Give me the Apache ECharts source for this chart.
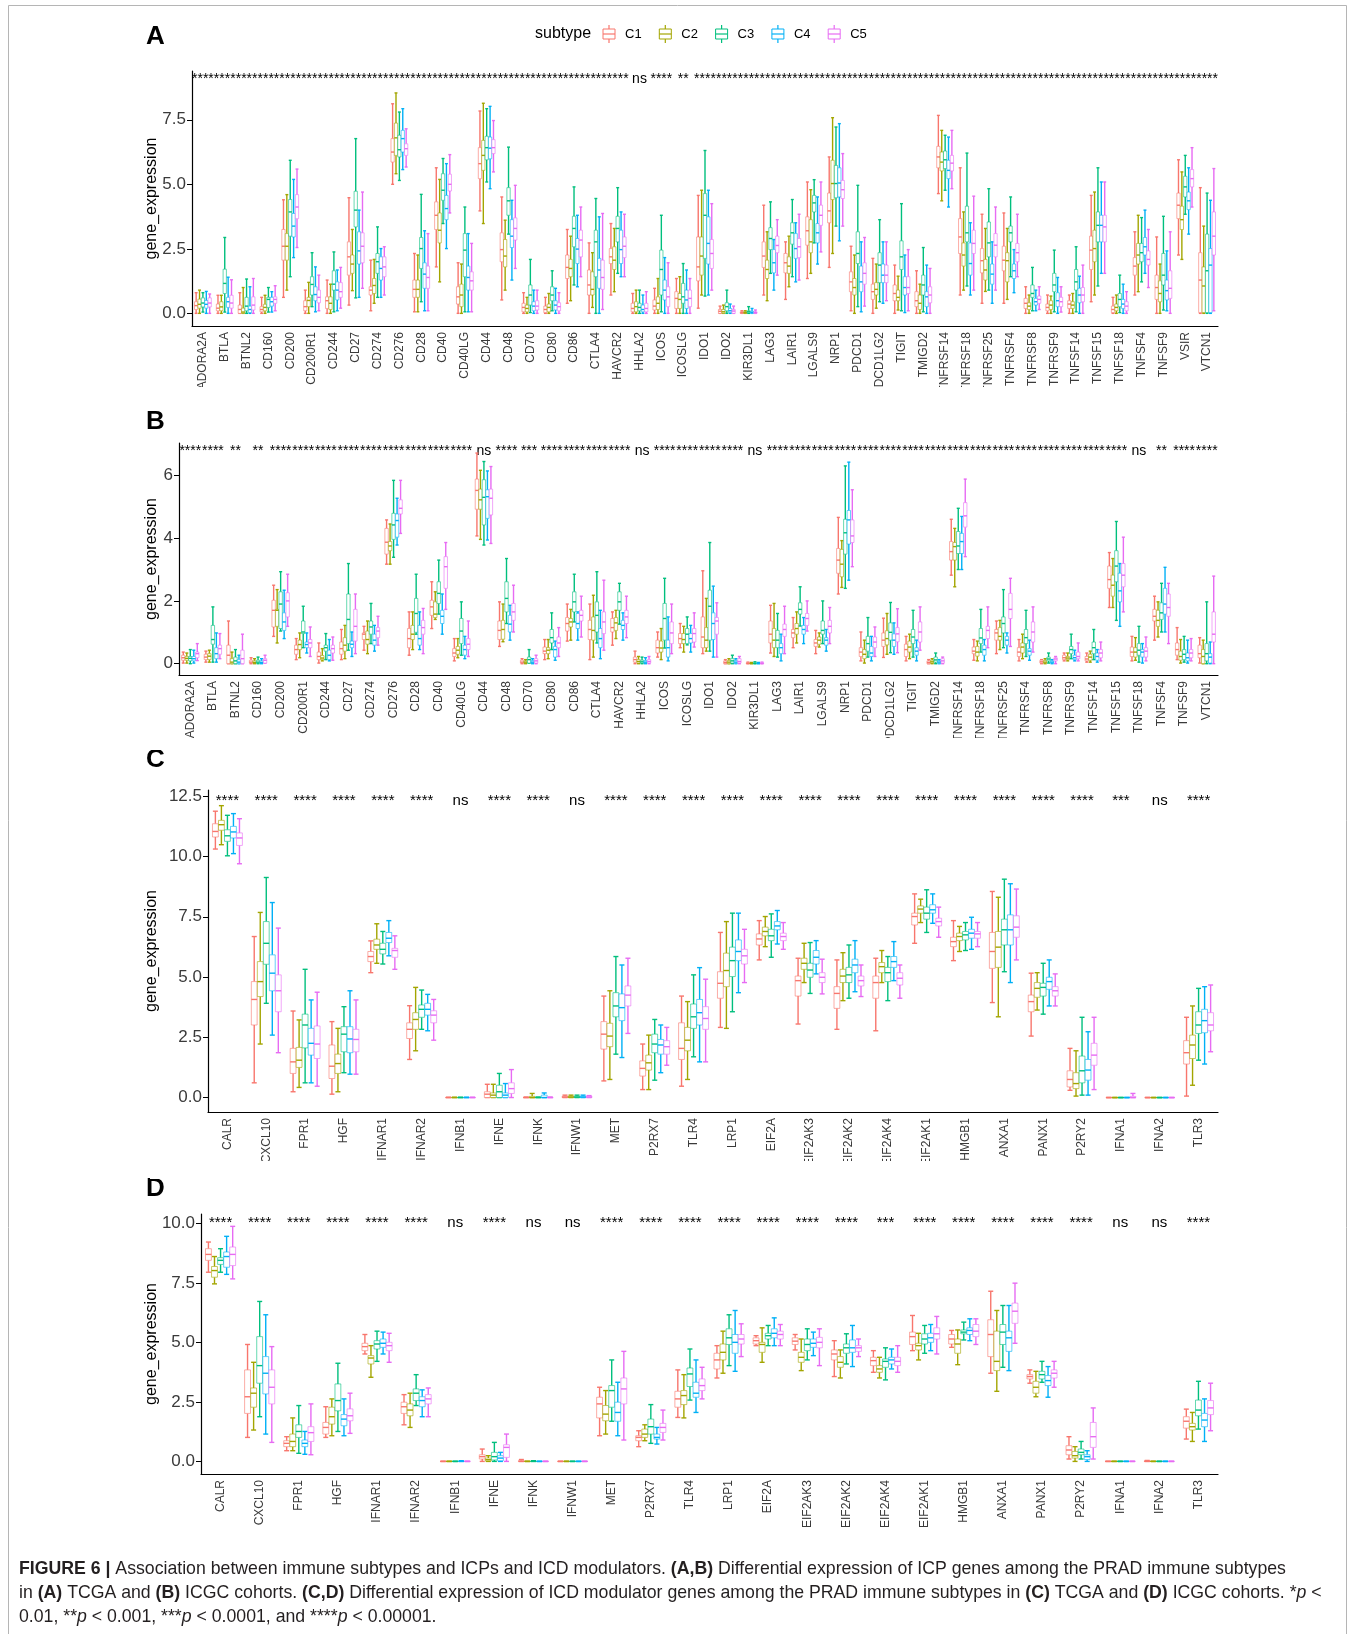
<!DOCTYPE html>
<html>
<head>
<meta charset="utf-8">
<script src="https://cdn.jsdelivr.net/npm/echarts@6.0.0/dist/echarts.min.js"></script>
<style>
html, body { margin: 0; padding: 0; background: #fff; }
#main { width: 1354px; height: 1634px; }
</style>
</head>
<body>
<div id="main"></div>
<script>
// subtypes and their ggplot hue colours
const subtypes = ['C1', 'C2', 'C3', 'C4', 'C5'];
const subtypeColors = ['#F8766D', '#A3A500', '#00BF7D', '#00B0F6', '#E76BF3'];

// gene lists
const icpGenesTcga = ['ADORA2A','BTLA','BTNL2','CD160','CD200','CD200R1','CD244','CD27','CD274','CD276','CD28','CD40','CD40LG','CD44','CD48','CD70','CD80','CD86','CTLA4','HAVCR2','HHLA2','ICOS','ICOSLG','IDO1','IDO2','KIR3DL1','LAG3','LAIR1','LGALS9','NRP1','PDCD1','PDCD1LG2','TIGIT','TMIGD2','TNFRSF14','TNFRSF18','TNFRSF25','TNFRSF4','TNFRSF8','TNFRSF9','TNFSF14','TNFSF15','TNFSF18','TNFSF4','TNFSF9','VSIR','VTCN1'];
const icpGenesIcgc = ['ADORA2A','BTLA','BTNL2','CD160','CD200','CD200R1','CD244','CD27','CD274','CD276','CD28','CD40','CD40LG','CD44','CD48','CD70','CD80','CD86','CTLA4','HAVCR2','HHLA2','ICOS','ICOSLG','IDO1','IDO2','KIR3DL1','LAG3','LAIR1','LGALS9','NRP1','PDCD1','PDCD1LG2','TIGIT','TMIGD2','TNFRSF14','TNFRSF18','TNFRSF25','TNFRSF4','TNFRSF8','TNFRSF9','TNFSF14','TNFSF15','TNFSF18','TNFSF4','TNFSF9','VTCN1'];
const icdGenes = ['CALR','CXCL10','FPR1','HGF','IFNAR1','IFNAR2','IFNB1','IFNE','IFNK','IFNW1','MET','P2RX7','TLR4','LRP1','EIF2A','EIF2AK3','EIF2AK2','EIF2AK4','EIF2AK1','HMGB1','ANXA1','PANX1','P2RY2','IFNA1','IFNA2','TLR3'];

// significance labels, one per gene
const tcgaIcpSig = ['****','****','****','****','****','****','****','****','****','****','****','****','****','****','****','****','****','****','****','****','ns','****','**','****','****','****','****','****','****','****','****','****','****','****','****','****','****','****','****','****','****','****','****','****','****','****','****'];
const icgcIcpSig = ['****','****','**','**','****','****','****','****','****','****','****','****','****','ns','****','***','****','****','****','****','ns','****','****','****','****','ns','****','****','****','****','****','****','****','****','****','****','****','****','****','****','****','****','ns','**','****','****'];
const tcgaIcdSig = ['****','****','****','****','****','****','ns','****','****','ns','****','****','****','****','****','****','****','****','****','****','****','****','****','***','ns','****'];
const icgcIcdSig = ['****','****','****','****','****','****','ns','****','ns','ns','****','****','****','****','****','****','****','***','****','****','****','****','****','ns','ns','****'];

// box stats per gene: for C1..C5 -> [min, q1, median, q3, max]
const tcgaIcpStats = [
  [[0,0.15,0.3,0.45,0.8],[0,0.2,0.35,0.55,0.9],[0.05,0.25,0.4,0.6,0.8],[0,0.2,0.35,0.5,0.85],[0,0.25,0.4,0.6,0.75]], // ADORA2A
  [[0,0.1,0.2,0.36,0.7],[0,0.1,0.25,0.45,0.7],[0.05,0.77,1.16,1.71,2.94],[0,0.23,0.45,0.62,1.4],[0,0.2,0.4,0.7,1.3]], // BTLA
  [[0,0,0.15,0.32,0.8],[0,0,0.05,0.2,1.0],[0,0.1,0.28,0.62,1.33],[0,0.03,0.15,0.28,1.03],[0,0.13,0.32,0.64,1.35]], // BTNL2
  [[0,0.06,0.15,0.26,0.62],[0,0.1,0.23,0.35,0.7],[0.05,0.23,0.54,0.62,1.0],[0.05,0.28,0.45,0.62,0.84],[0.1,0.39,0.54,0.64,1.07]], // CD160
  [[0.62,2.06,2.6,3.25,4.4],[0.9,2.06,2.6,3.09,4.6],[1.42,2.99,3.93,4.41,5.93],[2.16,2.96,3.38,3.87,5.19],[2.55,3.67,4.12,4.6,5.59]], // CD200
  [[0,0.1,0.26,0.49,0.9],[0,0.26,0.5,0.62,1.2],[0.26,0.71,1.12,1.42,2.35],[0.06,0.49,0.73,1.03,1.8],[0.1,0.41,0.62,0.9,1.48]], // CD200R1
  [[0,0.19,0.49,0.64,1.29],[0,0.15,0.39,0.64,1.13],[0.06,0.9,1.13,1.65,2.38],[0.1,0.52,0.9,1.22,1.68],[0.2,0.62,0.84,1.19,1.78]], // CD244
  [[0.32,1.48,2.19,2.77,4.48],[0.88,1.55,1.91,2.26,3.25],[0.6,3.35,4.0,4.73,6.77],[0.62,1.91,2.42,3.16,4.0],[0.97,1.96,2.6,3.12,4.7]], // CD27
  [[0.1,0.71,0.9,1.03,2.06],[0.39,0.77,1.08,1.35,2.09],[0.62,1.55,2.0,2.32,3.35],[0.62,1.29,1.74,2.19,2.51],[0.71,1.42,1.8,2.19,2.58]], // CD274
  [[5.0,5.86,6.25,6.77,8.12],[5.41,6.12,6.8,7.37,8.54],[5.15,6.06,6.34,6.9,7.8],[5.57,6.25,6.77,7.09,7.93],[5.67,6.12,6.38,6.57,7.15]], // CD276
  [[0.06,0.62,0.93,1.29,2.32],[0.06,0.62,0.93,1.29,2.26],[0.45,1.74,2.51,2.94,4.61],[0.1,0.97,1.52,1.96,3.2],[0.1,0.97,1.39,1.83,3.09]], // CD28
  [[1.8,3.25,3.8,4.32,5.64],[1.22,2.73,3.22,3.89,5.19],[3.48,4.38,4.77,5.41,6.0],[2.51,3.63,4.06,4.57,5.8],[3.89,4.74,5.0,5.39,6.15]], // CD40
  [[0,0.36,0.64,1.03,1.96],[0,0.26,0.71,1.13,1.91],[0.06,1.42,2.45,3.09,4.12],[0.06,0.9,1.39,1.83,3.09],[0.06,0.9,1.26,1.61,2.71]], // CD40LG
  [[3.97,5.22,5.8,6.42,7.84],[3.48,5.54,6.12,6.7,8.14],[5.09,5.95,6.42,6.86,7.93],[4.83,5.99,6.4,6.83,8.02],[5.48,6.19,6.42,6.73,7.47]], // CD44
  [[0.52,2.0,2.47,3.12,4.51],[0.9,1.8,2.22,2.86,3.61],[3.07,3.8,4.36,4.87,6.44],[1.29,2.55,2.99,3.63,4.38],[1.74,2.84,3.29,3.7,4.96]], // CD48
  [[0,0.06,0.23,0.39,0.8],[0,0.06,0.19,0.32,0.62],[0.03,0.32,0.71,1.1,2.09],[0,0.1,0.28,0.45,0.9],[0,0.13,0.28,0.49,0.9]], // CD70
  [[0,0.03,0.15,0.28,0.62],[0,0.06,0.23,0.36,0.77],[0.1,0.49,0.71,1.03,1.65],[0,0.13,0.32,0.49,0.97],[0,0.1,0.26,0.41,0.8]], // CD80
  [[0.39,1.35,1.78,2.26,3.25],[0.49,1.42,1.74,2.09,2.99],[1.1,2.58,3.29,3.76,4.9],[1.03,1.93,2.49,2.9,3.8],[1.42,2.19,2.84,3.22,4.12]], // CD86
  [[0,0.71,1.1,1.68,2.73],[0.23,0.71,0.93,1.61,2.35],[0,1.42,2.77,3.22,4.45],[0,0.97,1.68,2.13,3.74],[0.15,0.93,1.39,2.06,3.87]], // CTLA4
  [[0.71,1.93,2.19,2.51,3.48],[0.84,1.7,2.06,2.58,3.29],[1.55,2.77,3.29,3.76,4.87],[1.42,1.93,2.47,3.22,3.93],[1.42,2.16,2.6,2.96,3.84]], // HAVCR2
  [[0,0.06,0.19,0.39,0.77],[0,0.06,0.26,0.45,0.9],[0,0.1,0.23,0.39,0.9],[0,0.06,0.15,0.32,0.71],[0,0.06,0.19,0.39,0.84]], // HHLA2
  [[0,0.13,0.28,0.52,0.97],[0,0.15,0.39,0.64,1.35],[0.06,0.71,1.7,2.45,3.8],[0,0.52,0.9,1.29,2.16],[0,0.26,0.64,1.03,1.96]], // ICOS
  [[0,0.19,0.58,0.84,1.35],[0,0.19,0.54,0.77,1.42],[0,0.39,0.64,1.16,1.93],[0,0.19,0.52,0.9,1.68],[0,0.26,0.58,0.9,1.35]], // ICOSLG
  [[0.2,1.26,1.8,2.96,4.57],[0.71,1.48,2.22,2.96,4.77],[0.67,2.13,3.8,4.64,6.31],[0.71,1.91,2.71,3.74,4.77],[0.9,1.74,2.32,2.86,4.25]], // IDO1
  [[0,0,0.08,0.15,0.28],[0,0,0.06,0.15,0.32],[0,0.1,0.26,0.41,0.9],[0,0.03,0.1,0.19,0.36],[0,0,0.09,0.15,0.28]], // IDO2
  [[0,0,0.03,0.06,0.1],[0,0,0.03,0.06,0.1],[0,0.02,0.06,0.1,0.26],[0,0,0.04,0.08,0.19],[0,0,0.03,0.06,0.13]], // KIR3DL1
  [[0.71,1.78,2.22,2.77,4.19],[0.49,1.35,1.7,2.06,3.16],[1.55,2.47,2.9,3.32,4.32],[0.9,1.57,1.96,2.47,2.86],[1.48,2.35,2.63,2.99,3.63]], // LAG3
  [[0.54,1.57,1.96,2.32,2.77],[1.03,1.55,1.83,2.19,2.99],[1.42,2.68,3.12,3.51,4.41],[1.22,2.13,2.51,3.09,3.51],[1.29,2.16,2.58,2.9,3.84]], // LAIR1
  [[1.35,2.64,3.2,3.74,5.09],[1.55,2.35,2.77,3.63,4.79],[2.73,3.93,4.28,4.57,5.18],[1.91,2.73,3.12,3.48,4.51],[2.38,3.41,3.8,4.19,5.09]], // LGALS9
  [[1.78,3.51,3.97,4.66,6.06],[2.32,4.41,5.03,5.93,7.58],[3.38,4.48,5.03,5.73,7.22],[2.81,4.51,5.05,5.64,7.35],[3.38,4.45,4.79,5.15,6.19]], // NRP1
  [[0.1,0.84,1.22,1.61,2.6],[0,0.71,1.0,1.35,2.26],[0.26,1.93,2.32,3.16,4.96],[0.06,0.84,1.22,1.83,2.77],[0.28,1.13,1.55,1.96,2.94]], // PDCD1
  [[0,0.54,0.84,1.13,2.13],[0.2,0.71,0.93,1.19,1.91],[0.45,1.19,1.87,2.35,3.63],[0.39,1.19,1.48,1.91,2.77],[0.49,1.19,1.48,1.87,2.77]], // PDCD1LG2
  [[0,0.49,0.77,1.1,1.87],[0.13,0.49,0.62,0.9,1.44],[0.1,1.7,2.19,2.81,4.25],[0.03,0.71,1.0,1.42,2.26],[0.1,0.77,1.0,1.42,2.47]], // TIGIT
  [[0,0.26,0.49,0.84,1.65],[0,0.15,0.39,0.71,1.13],[0.06,0.71,1.1,1.48,2.55],[0,0.26,0.64,0.84,1.87],[0,0.41,0.71,1.03,1.74]], // TMIGD2
  [[4.64,5.64,6.06,6.47,7.67],[4.36,5.52,5.86,6.25,7.09],[4.77,5.61,5.95,6.29,6.9],[4.12,5.22,5.54,5.93,6.83],[4.83,5.52,5.82,6.12,7.09]], // TNFRSF14
  [[0.71,2.32,2.96,3.67,5.64],[0.9,1.83,2.26,2.73,3.93],[1.06,2.77,3.12,4.15,6.21],[0.71,1.48,1.93,2.73,3.51],[0.9,2.32,2.71,3.22,4.54]], // TNFRSF18
  [[0.39,1.57,2.04,2.51,3.84],[0.85,1.29,1.68,2.09,3.29],[0.9,2.19,2.73,3.54,4.83],[0.39,1.13,1.52,1.91,2.77],[0.9,2.19,2.64,3.09,4.12]], // TNFRSF25
  [[0.39,1.65,2.06,2.6,3.89],[0.54,1.22,2.04,2.35,3.29],[1.42,2.77,3.12,3.38,4.51],[0.8,1.35,1.65,1.91,2.47],[1.42,2.0,2.35,2.71,3.84]], // TNFRSF4
  [[0,0.19,0.39,0.58,1.03],[0,0.15,0.28,0.41,0.71],[0.1,0.62,0.77,1.1,1.78],[0.1,0.32,0.45,0.58,0.9],[0.15,0.39,0.54,0.67,1.03]], // TNFRSF8
  [[0,0.1,0.23,0.36,0.71],[0,0.15,0.32,0.49,0.67],[0.06,0.84,1.1,1.55,2.45],[0,0.26,0.49,0.8,1.39],[0.05,0.26,0.45,0.62,1.03]], // TNFRSF9
  [[0,0.19,0.36,0.49,0.71],[0,0.19,0.32,0.45,0.77],[0.06,0.9,1.22,1.7,2.58],[0,0.41,0.71,0.97,1.44],[0,0.45,0.71,1.0,1.87]], // TNFSF14
  [[0.45,1.7,2.45,2.99,4.57],[0.71,2.0,2.51,3.22,4.7],[1.06,2.77,3.41,3.93,5.64],[1.55,2.77,3.41,3.8,5.09],[1.55,2.77,3.35,3.8,5.09]], // TNFSF15
  [[0,0.03,0.15,0.28,0.62],[0,0.1,0.23,0.36,0.71],[0.03,0.26,0.54,0.77,1.48],[0,0.19,0.36,0.54,1.13],[0,0.1,0.28,0.45,0.84]], // TNFSF18
  [[0.71,1.48,1.83,2.16,3.16],[0.84,1.91,2.26,2.71,3.8],[1.22,2.0,2.35,2.71,3.71],[1.55,2.26,2.58,2.94,4.0],[1.0,1.87,2.09,2.42,3.25]], // TNFSF4
  [[0,0.54,1.0,1.48,2.96],[0,0.45,0.77,1.26,1.91],[0.13,1.1,1.48,2.32,3.76],[0.1,0.52,0.88,1.29,2.42],[0,0.58,0.97,1.65,3.16]], // TNFSF9
  [[2.26,3.67,4.19,4.66,5.95],[2.09,3.25,3.63,4.15,5.48],[3.84,4.51,4.9,5.31,6.12],[3.07,4.02,4.36,4.7,5.64],[4.12,4.9,5.22,5.57,6.42]], // VSIR
  [[0,0.03,1.29,2.35,4.87],[0,0.03,1.06,1.8,3.38],[0,0.03,1.65,3.07,4.66],[0,0.03,1.87,2.51,4.38],[0.1,2.26,2.99,3.93,5.61]] // VTCN1
];

const icgcIcpStats = [
  [[0.02,0.11,0.19,0.27,0.37],[0.02,0.11,0.17,0.23,0.34],[0,0.09,0.17,0.23,0.45],[0.02,0.09,0.16,0.23,0.43],[0.1,0.19,0.32,0.37,0.64]], // ADORA2A
  [[0.05,0.13,0.21,0.3,0.4],[0.05,0.13,0.24,0.32,0.43],[0.05,0.62,0.77,1.22,1.81],[0.05,0.16,0.32,0.51,0.98],[0.16,0.3,0.48,0.59,0.96]], // BTLA
  [[0,0,0.27,0.59,1.36],[0,0,0.05,0.16,0.37],[0,0,0.09,0.21,0.45],[0,0,0.05,0.13,0.27],[0,0,0.16,0.43,0.94]], // BTNL2
  [[0,0.02,0.05,0.11,0.19],[0,0.02,0.04,0.09,0.16],[0,0.02,0.05,0.11,0.21],[0,0.02,0.04,0.09,0.16],[0.02,0.02,0.11,0.16,0.27]], // CD160
  [[0.87,1.17,1.7,2.02,2.5],[0.66,1.19,1.7,1.73,2.36],[1.04,1.12,1.9,2.29,2.93],[0.8,1.06,1.33,1.62,2.34],[1.19,1.49,2.0,2.26,2.85]], // CD200
  [[0.13,0.3,0.45,0.59,0.8],[0.19,0.45,0.61,0.75,0.98],[0.51,0.96,1.01,1.36,1.83],[0.34,0.51,0.61,0.69,0.98],[0.23,0.51,0.66,0.77,1.17]], // CD200R1
  [[0.02,0.13,0.23,0.37,0.66],[0.09,0.13,0.18,0.26,0.48],[0.13,0.4,0.51,0.59,0.96],[0.09,0.13,0.27,0.43,0.77],[0.11,0.34,0.48,0.59,0.85]], // CD244
  [[0.13,0.3,0.48,0.69,1.09],[0.16,0.4,0.59,0.83,1.22],[0.43,0.64,1.41,2.22,3.19],[0.23,0.51,0.62,0.72,1.01],[0.32,0.72,1.19,1.73,2.22]], // CD27
  [[0.43,0.77,0.94,0.98,1.19],[0.32,0.62,0.77,1.04,1.36],[0.64,0.94,1.17,1.36,1.92],[0.4,0.59,0.75,0.94,1.22],[0.59,0.83,1.04,1.15,1.51]], // CD274
  [[3.17,3.49,3.87,4.31,4.58],[3.17,3.6,3.75,3.89,4.45],[3.39,3.96,4.42,4.79,5.84],[3.78,4.03,4.56,4.77,5.27],[4.15,4.77,4.95,5.22,5.84]], // CD276
  [[0.27,0.51,0.8,1.12,1.65],[0.45,0.77,0.94,1.22,1.65],[0.94,1.0,1.6,2.08,2.85],[0.45,0.59,0.8,1.22,1.65],[0.32,0.94,1.15,1.38,1.76]], // CD28
  [[1.12,1.54,1.81,2.02,2.61],[1.41,1.47,1.58,1.97,2.29],[1.58,1.92,2.24,2.61,3.3],[0.94,1.28,1.51,1.7,2.22],[1.73,2.4,3.09,3.41,3.86]], // CD40
  [[0.09,0.23,0.34,0.48,0.8],[0.19,0.3,0.43,0.55,0.8],[0.27,0.64,1.04,1.44,1.97],[0.16,0.27,0.45,0.59,0.87],[0.23,0.45,0.62,0.8,1.36]], // CD40LG
  [[4.07,4.92,5.52,5.88,6.71],[3.96,4.92,5.22,5.56,6.16],[3.78,4.42,5.3,5.86,6.44],[3.94,4.63,5.32,5.54,6.14],[3.83,4.74,5.27,5.56,6.28]], // CD44
  [[0.55,0.77,1.06,1.36,1.97],[0.7,0.78,1.09,1.38,1.9],[1.28,1.65,2.08,2.61,3.35],[0.75,1.01,1.26,1.54,1.86],[1.01,1.38,1.65,1.92,2.5]], // CD48
  [[0,0.02,0.05,0.11,0.16],[0,0.02,0.05,0.09,0.13],[0.02,0.02,0.13,0.21,0.45],[0,0.02,0.05,0.1,0.16],[0,0.02,0.09,0.16,0.27]], // CD70
  [[0.13,0.32,0.4,0.53,0.77],[0.16,0.32,0.43,0.51,0.77],[0.45,0.66,0.83,1.09,1.62],[0.11,0.21,0.45,0.55,0.72],[0.23,0.51,0.66,0.85,1.15]], // CD80
  [[0.72,1.04,1.28,1.47,1.9],[0.75,1.17,1.33,1.44,1.73],[1.33,1.65,1.97,2.29,2.85],[0.75,1.12,1.28,1.6,1.65],[0.85,1.36,1.54,1.7,2.15]], // CD86
  [[0.13,0.77,1.09,1.38,1.9],[0.21,0.75,1.06,1.49,2.18],[0.66,1.01,1.54,1.97,2.93],[0.16,0.51,0.8,1.12,1.7],[0.43,0.96,1.33,1.65,2.66]], // CTLA4
  [[0.59,1.01,1.15,1.44,1.65],[0.8,1.06,1.3,1.47,1.7],[1.26,1.7,1.97,2.29,2.56],[0.75,1.09,1.22,1.38,1.62],[0.83,1.28,1.49,1.7,2.15]], // HAVCR2
  [[0,0.05,0.13,0.21,0.4],[0,0.02,0.07,0.13,0.23],[0,0.02,0.06,0.11,0.21],[0,0.02,0.05,0.1,0.19],[0,0.02,0.07,0.13,0.23]], // HHLA2
  [[0.21,0.34,0.51,0.75,1.01],[0.13,0.37,0.5,0.72,1.12],[0.5,0.75,1.44,1.92,2.72],[0.09,0.21,0.51,0.75,1.49],[0.32,0.64,0.98,1.33,1.9]], // ICOS
  [[0.51,0.64,0.8,0.96,1.28],[0.37,0.64,0.77,0.96,1.19],[0.6,0.64,0.94,1.12,1.49],[0.37,0.66,0.8,0.96,1.22],[0.53,0.69,0.96,1.12,1.62]], // ICOSLG
  [[0.32,0.51,0.85,1.49,2.96],[0.4,0.51,0.75,1.15,2.08],[0.4,0.75,1.83,2.34,3.86],[0.21,0.77,1.28,1.62,2.47],[0.21,0.94,1.36,1.47,1.94]], // IDO1
  [[0,0,0.04,0.09,0.13],[0,0,0.05,0.1,0.16],[0,0.02,0.09,0.16,0.27],[0,0.01,0.05,0.1,0.16],[0,0.02,0.07,0.16,0.23]], // IDO2
  [[0,0,0.01,0.03,0.05],[0,0,0.01,0.02,0.04],[0,0,0.01,0.03,0.06],[0,0,0.01,0.02,0.04],[0,0,0.01,0.03,0.05]], // KIR3DL1
  [[0.34,0.66,0.94,1.36,1.86],[0.23,0.51,0.75,1.12,1.92],[0.21,0.51,0.75,1.06,1.6],[0.09,0.32,0.51,0.64,0.94],[0.32,0.87,1.09,1.26,1.83]], // LAG3
  [[0.51,0.83,0.98,1.09,1.47],[0.66,0.94,1.12,1.28,1.65],[1.2,1.58,1.73,1.94,2.45],[0.64,0.94,1.09,1.22,1.47],[1.04,1.22,1.44,1.6,2.0]], // LAIR1
  [[0.32,0.55,0.66,0.77,1.06],[0.53,0.62,0.75,0.85,0.98],[0.64,0.94,1.06,1.36,2.0],[0.4,0.59,0.75,0.83,1.09],[0.64,0.98,1.19,1.38,1.79]], // LGALS9
  [[2.22,2.88,3.3,3.67,4.66],[2.43,2.77,3.17,3.64,3.92],[2.4,3.49,4.17,4.6,6.3],[2.66,3.81,4.58,4.88,6.42],[3.09,3.86,4.07,4.58,5.54]], // NRP1
  [[0.09,0.23,0.37,0.51,1.01],[0.02,0.16,0.3,0.45,0.75],[0.21,0.4,0.64,0.87,1.47],[0.09,0.23,0.34,0.55,0.87],[0.23,0.51,0.69,0.85,1.17]], // PDCD1
  [[0.2,0.55,0.75,0.98,1.45],[0.3,0.6,0.8,1.05,1.6],[0.35,0.75,1.0,1.3,1.95],[0.3,0.55,0.75,0.95,1.3],[0.35,0.7,0.95,1.15,1.75]], // PDCD1LG2
  [[0.09,0.23,0.45,0.62,0.87],[0.16,0.37,0.53,0.72,0.94],[0.21,0.64,0.85,1.09,1.7],[0.09,0.27,0.4,0.51,0.75],[0.43,0.69,1.01,1.33,1.81]], // TIGIT
  [[0,0,0.04,0.09,0.13],[0,0.02,0.06,0.11,0.16],[0,0.05,0.12,0.21,0.34],[0,0.01,0.05,0.09,0.13],[0,0.02,0.09,0.16,0.21]], // TMIGD2
  [[2.82,3.3,3.57,3.89,4.6],[2.45,3.3,3.73,3.86,4.31],[3.0,3.51,3.75,4.21,4.95],[3.0,3.51,3.89,4.15,4.69],[3.41,4.35,4.71,5.13,5.88]], // TNFRSF14
  [[0.11,0.32,0.4,0.53,0.77],[0.09,0.24,0.37,0.55,0.72],[0.37,0.64,0.82,1.12,1.73],[0.09,0.27,0.45,0.59,0.77],[0.51,0.8,1.06,1.19,1.81]], // TNFRSF18
  [[0.32,0.75,0.98,1.09,1.36],[0.45,0.75,0.87,1.15,1.38],[0.51,0.98,1.28,1.49,2.36],[0.34,0.59,0.75,0.87,0.98],[0.55,1.44,1.73,2.24,2.72]], // TNFRSF25
  [[0.09,0.23,0.37,0.51,0.77],[0.16,0.34,0.53,0.66,0.94],[0.23,0.64,0.83,1.09,1.7],[0.11,0.27,0.4,0.48,0.75],[0.37,0.69,1.01,1.33,1.81]], // TNFRSF4
  [[0,0.02,0.06,0.11,0.13],[0,0.02,0.05,0.1,0.16],[0.02,0.09,0.15,0.21,0.34],[0,0.02,0.05,0.09,0.13],[0,0.09,0.15,0.19,0.23]], // TNFRSF8
  [[0.09,0.13,0.19,0.27,0.34],[0.09,0.13,0.18,0.23,0.34],[0.16,0.32,0.45,0.55,0.94],[0.09,0.13,0.19,0.27,0.43],[0.09,0.16,0.23,0.37,0.66]], // TNFRSF9
  [[0.05,0.09,0.15,0.23,0.34],[0.05,0.11,0.21,0.3,0.4],[0.13,0.32,0.51,0.69,1.09],[0.05,0.11,0.23,0.34,0.45],[0.09,0.19,0.34,0.45,0.69]], // TNFSF14
  [[1.79,2.4,2.68,3.11,3.54],[1.79,2.15,2.5,2.82,3.35],[1.38,2.61,3.11,3.6,4.53],[1.19,1.97,2.32,2.88,3.19],[1.65,2.45,2.82,3.19,4.03]], // TNFSF15
  [[0.09,0.23,0.37,0.53,0.87],[0.11,0.21,0.37,0.51,0.83],[0.05,0.27,0.43,0.64,1.19],[0.02,0.21,0.37,0.45,0.64],[0.09,0.21,0.4,0.51,0.85]], // TNFSF18
  [[0.75,1.36,1.51,1.73,2.15],[0.85,1.19,1.38,1.7,1.97],[1.01,1.41,1.62,1.94,2.56],[1.01,1.58,1.9,2.4,3.07],[0.64,1.51,1.79,2.22,2.56]], // TNFSF4
  [[0.13,0.27,0.45,0.66,1.15],[0.02,0.11,0.23,0.4,0.77],[0.05,0.13,0.3,0.45,0.87],[0.02,0.09,0.19,0.34,0.75],[0.09,0.19,0.34,0.45,0.8]], // TNFSF9
  [[0.02,0.19,0.32,0.59,0.83],[0,0,0.23,0.45,0.75],[0,0.09,0.32,0.64,1.97],[0,0.02,0.21,0.32,0.69],[0,0.69,0.94,1.65,2.79]] // VTCN1
];

const tcgaIcdStats = [
  [[10.31,10.81,11.04,11.36,11.88],[10.49,11.09,11.32,11.5,12.11],[10.03,10.63,10.86,11.11,11.71],[10.12,10.77,11.02,11.25,11.78],[9.7,10.46,10.77,10.98,11.57]], // CALR
  [[0.61,3.01,4.07,4.81,6.68],[2.22,4.19,4.81,5.64,7.68],[3.91,5.53,6.4,7.3,9.13],[2.59,4.43,5.16,5.92,8.09],[1.86,3.56,4.43,5.09,7.03]], // CXCL10
  [[0.24,1.0,1.48,2.04,3.59],[0.42,1.25,1.55,2.08,3.22],[0.61,2.06,3.01,3.46,5.32],[0.61,1.76,2.25,2.87,4.05],[0.47,1.62,2.22,2.97,4.37]], // FPR1
  [[0.14,0.79,1.3,2.18,3.15],[0.24,1.0,1.41,1.8,2.87],[1.03,1.9,2.63,2.94,3.77],[0.97,1.86,2.43,2.94,4.43],[0.97,1.9,2.41,2.83,4.05]], // HGF
  [[5.18,5.64,5.85,6.06,6.5],[5.57,6.15,6.33,6.57,7.21],[5.54,5.96,6.15,6.4,6.89],[5.88,6.43,6.61,6.85,7.34],[5.32,5.82,6.1,6.19,6.71]], // IFNAR1
  [[1.58,2.45,2.83,3.1,3.81],[1.94,2.83,3.24,3.52,4.57],[2.83,3.33,3.66,3.84,4.46],[2.77,3.42,3.66,3.91,4.28],[2.38,3.1,3.42,3.6,4.07]], // IFNAR2
  [[0,0,0,0,0.01],[0,0,0,0,0.01],[0,0,0,0,0.01],[0,0,0,0,0.01],[0,0,0,0,0.01]], // IFNB1
  [[0,0,0.14,0.24,0.55],[0,0,0.1,0.19,0.55],[0,0,0.24,0.51,1.0],[0,0,0.1,0.19,0.58],[0,0.17,0.37,0.61,1.16]], // IFNE
  [[0,0,0,0,0.02],[0,0,0,0.05,0.17],[0,0,0,0,0.02],[0,0,0,0.1,0.19],[0,0,0,0,0.02]], // IFNK
  [[0,0,0.02,0.05,0.1],[0,0,0.02,0.05,0.1],[0,0,0.02,0.05,0.1],[0,0,0.02,0.05,0.1],[0,0,0.02,0.05,0.08]], // IFNW1
  [[0.69,2.01,2.63,3.15,4.21],[0.75,2.11,2.55,3.08,4.43],[1.8,3.35,3.8,4.35,5.85],[1.66,3.19,3.73,4.3,5.5],[2.66,3.8,4.25,4.63,5.78]], // MET
  [[0.33,0.89,1.21,1.52,2.22],[0.33,1.14,1.44,1.76,2.59],[0.72,1.86,2.22,2.63,3.24],[1.03,1.8,2.18,2.41,3.01],[1.34,1.8,2.11,2.36,2.91]], // P2RX7
  [[0.47,1.58,2.04,3.1,4.21],[0.75,1.94,2.38,2.91,3.98],[1.69,2.87,3.35,3.88,5.09],[1.48,3.01,3.52,4.07,5.39],[1.48,2.83,3.28,3.77,4.91]], // TLR4
  [[2.91,4.12,4.74,5.22,6.85],[2.87,4.6,5.27,5.99,7.3],[3.56,5.02,5.68,6.24,7.65],[4.35,5.68,6.06,6.54,7.65],[4.77,5.54,5.88,6.15,6.98]], // LRP1
  [[5.71,6.33,6.58,6.79,7.34],[6.26,6.71,6.89,7.07,7.51],[5.82,6.51,6.71,6.98,7.62],[6.37,6.96,7.12,7.3,7.76],[6.15,6.51,6.68,6.82,7.26]], // EIF2A
  [[3.05,4.21,4.85,5.04,5.78],[4.77,5.32,5.57,5.78,6.4],[4.32,4.99,5.29,5.57,6.43],[5.13,5.54,5.82,6.1,6.51],[4.3,4.77,4.99,5.18,5.74]], // EIF2AK3
  [[2.83,3.7,4.32,4.6,5.71],[4.02,4.77,5.04,5.32,6.01],[4.12,4.77,5.09,5.4,6.33],[4.39,5.18,5.5,5.74,6.51],[4.19,4.63,4.85,5.04,5.5]], // EIF2AK2
  [[2.77,4.12,4.77,5.04,5.78],[4.77,5.18,5.43,5.6,6.1],[4.02,4.81,5.18,5.4,5.85],[4.85,5.4,5.64,5.85,6.47],[4.12,4.67,4.95,5.18,5.5]], // EIF2AK4
  [[6.4,7.16,7.51,7.65,8.45],[7.26,7.65,7.82,7.95,8.23],[6.85,7.4,7.65,7.9,8.62],[7.23,7.65,7.79,8.0,8.45],[6.65,7.12,7.3,7.44,7.9]], // EIF2AK1
  [[5.68,6.26,6.47,6.65,7.34],[6.06,6.51,6.68,6.82,7.1],[6.1,6.54,6.75,6.89,7.26],[6.15,6.61,6.82,6.98,7.48],[6.26,6.61,6.79,6.89,7.26]], // HMGB1
  [[3.94,5.36,6.06,6.85,8.55],[3.35,5.4,6.24,6.89,8.31],[5.22,6.33,6.96,7.4,9.06],[4.77,6.33,6.96,7.58,8.87],[5.71,6.65,7.07,7.54,8.65]], // ANXA1
  [[2.55,3.56,3.98,4.25,5.16],[3.63,4.16,4.53,4.77,5.18],[3.46,4.21,4.57,4.74,5.57],[3.8,4.49,4.81,4.99,5.71],[3.8,4.21,4.43,4.6,5.13]], // PANX1
  [[0.3,0.44,0.75,1.11,2.04],[0.06,0.37,0.58,1.03,1.94],[0.1,0.61,1.11,1.72,3.33],[0.1,0.72,1.14,1.58,2.73],[0.33,1.34,1.76,2.25,3.33]], // P2RY2
  [[0,0,0,0,0],[0,0,0,0,0],[0,0,0,0,0],[0,0,0,0,0],[0,0,0,0.05,0.17]], // IFNA1
  [[0,0,0,0,0],[0,0,0,0,0],[0,0,0,0,0],[0,0,0,0,0],[0,0,0,0,0]], // IFNA2
  [[0.06,1.39,1.86,2.36,3.33],[0.51,1.62,2.18,2.59,3.8],[1.55,2.66,3.01,3.56,4.53],[1.39,2.69,3.19,3.66,4.6],[1.9,2.77,3.01,3.52,4.67]] // TLR3
];

const icgcIcdStats = [
  [[7.96,8.46,8.71,8.95,9.23],[7.47,7.75,8.03,8.2,8.62],[7.96,8.29,8.46,8.57,8.95],[7.87,8.17,8.62,8.81,9.47],[7.68,8.24,8.71,9.02,9.89]], // CALR
  [[1.01,2.02,2.72,3.85,4.92],[1.32,2.28,2.87,3.09,4.17],[1.88,3.29,4.03,5.25,6.73],[1.15,2.84,3.71,4.41,6.17],[0.8,2.42,3.12,3.85,4.83]], // CXCL10
  [[0.45,0.62,0.76,0.87,1.04],[0.45,0.62,0.84,1.15,1.83],[0.34,1.01,1.26,1.54,2.35],[0.3,0.62,0.76,0.9,1.26],[0.28,0.84,1.21,1.46,2.42]], // FPR1
  [[1.01,1.15,1.43,1.64,2.3],[1.08,1.57,1.88,2.28,2.63],[1.26,2.13,2.56,3.26,4.13],[1.08,1.5,1.78,1.97,2.63],[1.18,1.71,1.92,2.21,2.87]], // HGF
  [[4.52,4.66,4.83,4.97,5.34],[3.54,4.1,4.35,4.45,4.87],[4.21,4.73,4.94,5.08,5.48],[4.52,4.8,4.97,5.15,5.44],[4.17,4.66,4.87,5.01,5.39]], // IFNAR1
  [[1.54,2.02,2.3,2.49,2.81],[1.43,1.92,2.16,2.42,2.87],[2.35,2.56,2.87,3.05,3.65],[1.88,2.3,2.56,2.72,3.01],[1.88,2.42,2.63,2.81,3.09]], // IFNAR2
  [[0,0,0,0,0],[0,0,0,0,0],[0,0,0,0,0],[0,0,0,0,0.03],[0,0,0,0,0]], // IFNB1
  [[0,0.1,0.2,0.28,0.52],[0,0.02,0.07,0.14,0.24],[0,0.06,0.2,0.38,0.8],[0,0.03,0.14,0.24,0.38],[0,0.17,0.59,0.7,1.15]], // IFNE
  [[0,0,0,0.03,0.08],[0,0,0,0,0],[0,0,0,0,0.03],[0,0,0,0,0],[0,0,0,0,0]], // IFNK
  [[0,0,0,0,0],[0,0,0,0,0],[0,0,0,0,0],[0,0,0,0,0],[0,0,0,0,0]], // IFNW1
  [[1.08,1.83,2.42,2.7,3.12],[1.15,1.71,1.99,2.35,2.98],[1.69,2.28,2.98,3.19,4.27],[1.08,1.69,2.06,2.49,3.33],[0.9,2.42,3.05,3.51,4.63]], // MET
  [[0.62,0.87,1.01,1.08,1.29],[0.87,1.01,1.15,1.36,1.54],[0.76,1.15,1.46,1.78,2.39],[0.73,0.94,1.01,1.15,1.43],[0.9,1.22,1.43,1.6,2.16]], // P2RX7
  [[1.85,2.28,2.63,2.95,3.85],[1.83,2.39,2.77,2.98,3.65],[2.58,3.15,3.68,3.93,4.73],[2.06,2.7,2.87,3.33,4.27],[2.63,2.98,3.19,3.47,3.96]], // TLR4
  [[3.51,3.89,4.27,4.55,4.87],[3.71,4.27,4.59,4.94,5.48],[4.03,4.92,5.2,5.58,6.17],[3.79,4.55,5.01,5.34,6.35],[4.41,4.94,5.15,5.34,5.79]], // LRP1
  [[4.87,4.94,5.08,5.2,5.29],[4.17,4.59,4.92,5.01,5.62],[4.87,5.15,5.29,5.39,5.72],[4.87,5.2,5.39,5.58,6.04],[4.87,5.15,5.34,5.48,5.76]], // EIF2A
  [[4.69,4.92,5.06,5.2,5.34],[3.82,4.17,4.38,4.59,5.15],[4.27,4.66,4.92,5.15,5.58],[4.45,4.8,4.97,5.15,5.44],[4.03,4.78,5.01,5.22,5.58]], // EIF2AK3
  [[3.57,4.27,4.52,4.69,5.08],[3.51,3.96,4.17,4.41,4.69],[4.1,4.55,4.78,4.94,5.37],[3.99,4.59,4.78,5.11,5.72],[4.41,4.63,4.78,4.87,5.15]], // EIF2AK2
  [[3.75,4.03,4.24,4.38,4.66],[3.51,3.75,3.89,4.03,4.38],[3.43,3.96,4.21,4.31,4.78],[3.89,4.1,4.27,4.38,4.73],[3.75,4.03,4.21,4.38,4.87]], // EIF2AK4
  [[4.66,4.92,5.25,5.44,6.14],[4.27,4.69,4.87,4.97,5.39],[4.55,4.94,5.15,5.37,5.72],[4.66,5.01,5.2,5.39,5.76],[4.52,5.15,5.37,5.62,6.1]], // EIF2AK1
  [[4.8,4.94,5.15,5.34,5.51],[4.07,4.55,4.94,5.15,5.53],[5.11,5.37,5.44,5.53,5.86],[5.08,5.34,5.51,5.62,6.0],[4.92,5.25,5.48,5.76,6.0]], // HMGB1
  [[3.71,4.41,5.34,5.96,7.16],[2.95,3.82,4.21,5.48,6.35],[3.96,4.92,5.44,5.76,6.56],[3.82,4.63,5.2,5.48,6.56],[4.97,5.81,6.32,6.66,7.5]], // ANXA1
  [[3.29,3.47,3.57,3.65,3.85],[2.72,2.87,3.12,3.37,3.79],[3.33,3.47,3.65,3.79,4.21],[2.7,3.19,3.4,3.61,3.99],[3.12,3.51,3.71,3.85,4.21]], // PANX1
  [[0.1,0.28,0.48,0.66,1.04],[0,0.14,0.24,0.42,0.62],[0.1,0.28,0.38,0.52,0.84],[0,0.08,0.2,0.28,0.45],[0.1,0.59,1.04,1.64,2.25]], // P2RY2
  [[0,0,0,0,0],[0,0,0,0,0],[0,0,0,0,0],[0,0,0,0,0],[0,0,0,0,0]], // IFNA1
  [[0,0,0,0.02,0.04],[0,0,0,0,0],[0,0,0,0,0],[0,0,0,0,0],[0,0,0,0,0]], // IFNA2
  [[0.94,1.4,1.69,1.88,2.2],[0.84,1.32,1.46,1.6,2.06],[1.36,1.92,2.16,2.58,3.37],[0.84,1.46,1.74,2.02,2.63],[1.29,1.97,2.25,2.56,3.29]] // TLR3
];

// y tick labels of each panel
const ticksA = [0, 2.5, 5, 7.5];
const ticksB = [0, 2, 4, 6];
const ticksC = [0, 2.5, 5, 7.5, 10, 12.5];
const ticksD = [0, 2.5, 5, 7.5, 10];

const FONT = '"Liberation Sans", Arial, Helvetica, sans-serif';

// panel layout (pixels)
const panels = [
  { label: 'A', labelY: 50, genes: icpGenesTcga, stats: tcgaIcpStats, sig: tcgaIcpSig, ticks: ticksA, dec: 1,
    grid: { left: 192, top: 71, width: 1026, height: 255 }, min: -0.49, max: 9.39, nameGap: 32, sigSize: 14, sigMargin: 1 },
  { label: 'B', labelY: 435, genes: icpGenesIcgc, stats: icgcIcpStats, sig: icgcIcpSig, ticks: ticksB, dec: 0,
    grid: { left: 179, top: 443, width: 1039, height: 232 }, min: -0.36, max: 7.03, nameGap: 19, sigSize: 14, sigMargin: 1 },
  { label: 'C', labelY: 773, genes: icdGenes, stats: tcgaIcdStats, sig: tcgaIcdSig, ticks: ticksC, dec: 1,
    grid: { left: 208, top: 790, width: 1010, height: 322 }, min: -0.6, max: 12.76, nameGap: 48, sigSize: 15, sigMargin: 3 },
  { label: 'D', labelY: 1202, genes: icdGenes, stats: icgcIcdStats, sig: icgcIcdSig, ticks: ticksD, dec: 1,
    grid: { left: 201, top: 1214, width: 1017, height: 260 }, min: -0.53, max: 10.41, nameGap: 41, sigSize: 15, sigMargin: 1 }
];

// one dodged ggplot-like box per subtype
function boxRenderer(s) {
  return function (params, api) {
    const i = api.value(0);
    const band = api.size([1, 0])[0];
    const w = band * 0.15;
    const cx = api.coord([i, 0])[0] + (s - 2) * band * 0.155;
    const y = [1, 2, 3, 4, 5].map(k => api.coord([i, api.value(k)])[1]);
    const color = api.visual('color');
    const cap = Math.min(w * 0.45, 2.5);
    return {
      type: 'group',
      children: [
        { type: 'line', shape: { x1: cx, y1: y[0], x2: cx, y2: y[1] }, style: { stroke: color, lineWidth: 1.4 } },
        { type: 'line', shape: { x1: cx, y1: y[3], x2: cx, y2: y[4] }, style: { stroke: color, lineWidth: 1.4 } },
        { type: 'line', shape: { x1: cx - cap, y1: y[0], x2: cx + cap, y2: y[0] }, style: { stroke: color, lineWidth: 1.4 } },
        { type: 'line', shape: { x1: cx - cap, y1: y[4], x2: cx + cap, y2: y[4] }, style: { stroke: color, lineWidth: 1.4 } },
        { type: 'rect', shape: { x: cx - w / 2, y: y[3], width: w, height: Math.max(y[1] - y[3], 0.01) },
          style: { fill: '#fff', stroke: color, lineWidth: 1, strokeOpacity: 0.6 } },
        { type: 'line', shape: { x1: cx - w / 2, y1: y[2], x2: cx + w / 2, y2: y[2] }, style: { stroke: color, lineWidth: 1.4 } }
      ]
    };
  };
}

const grids = [], xAxes = [], yAxes = [], series = [];
panels.forEach((p, pi) => {
  grids.push(p.grid);
  xAxes.push({
    type: 'category', gridIndex: pi, data: p.genes, position: 'bottom', boundaryGap: true,
    axisLine: { onZero: false, lineStyle: { color: '#000', width: 1.2 } },
    axisTick: { alignWithLabel: true, length: 5, lineStyle: { color: '#000' } },
    axisLabel: { interval: 0, rotate: 90, fontSize: 12, color: '#3a3a3a', fontFamily: FONT, margin: 6 },
    splitLine: { show: false }
  });
  xAxes.push({
    type: 'category', gridIndex: pi, data: p.sig, position: 'top', boundaryGap: true,
    axisLine: { show: false, onZero: false }, axisTick: { show: false },
    axisLabel: { inside: true, interval: 0, margin: p.sigMargin, fontSize: p.sigSize, color: '#000', fontFamily: FONT },
    splitLine: { show: false }
  });
  yAxes.push({
    type: 'value', gridIndex: pi, min: p.min, max: p.max,
    name: 'gene_expression', nameLocation: 'middle', nameGap: p.nameGap, nameMoveOverlap: false,
    nameTextStyle: { fontSize: 16, color: '#000', fontFamily: FONT },
    axisLine: { show: true, lineStyle: { color: '#000', width: 1.2 } },
    axisTick: { show: true, length: 5, customValues: p.ticks, lineStyle: { color: '#000' } },
    axisLabel: { customValues: p.ticks, fontSize: 17, color: '#3a3a3a', fontFamily: FONT, margin: 6,
      formatter: v => v.toFixed(p.dec) },
    splitLine: { show: false }
  });
  subtypes.forEach((name, s) => {
    series.push({
      type: 'custom', name: name, xAxisIndex: pi * 2, yAxisIndex: pi,
      itemStyle: { color: subtypeColors[s] },
      encode: { x: 0, y: [1, 2, 3, 4, 5] },
      renderItem: boxRenderer(s),
      data: p.genes.map((g, i) => [i].concat(p.stats[i][s])),
      silent: true
    });
  });
});

// legend drawn as boxplot glyphs
const legendItems = [{
  type: 'text', x: 535, y: 34,
  style: { text: 'subtype', fontSize: 16, fontFamily: FONT, fill: '#000', verticalAlign: 'middle' }
}];
subtypes.forEach((name, s) => {
  const gx = 609 + 56.3 * s, cy = 34, col = subtypeColors[s];
  legendItems.push(
    { type: 'line', shape: { x1: gx, y1: cy - 9, x2: gx, y2: cy + 9 }, style: { stroke: col, lineWidth: 1.2 } },
    { type: 'rect', shape: { x: gx - 6, y: cy - 5, width: 12, height: 10 }, style: { fill: '#fff', stroke: col, lineWidth: 1 } },
    { type: 'line', shape: { x1: gx - 6, y1: cy, x2: gx + 6, y2: cy }, style: { stroke: col, lineWidth: 1.2 } },
    { type: 'text', x: gx + 16, y: cy, style: { text: name, fontSize: 13, fontFamily: FONT, fill: '#000', verticalAlign: 'middle' } }
  );
});

const panelLetters = panels.map(p => ({
  type: 'text', x: 146, y: p.labelY,
  style: { text: p.label, fontSize: 26, fontWeight: 'bold', fontFamily: FONT, fill: '#000', verticalAlign: 'bottom' }
}));

// crop of long x labels as in the source figure
const masks = [
  { type: 'rect', z: 100, shape: { x: 150, y: 387, width: 1090, height: 22 }, style: { fill: '#fff' } },
  { type: 'rect', z: 100, shape: { x: 150, y: 738, width: 1090, height: 12 }, style: { fill: '#fff' } },
  { type: 'rect', z: 100, shape: { x: 150, y: 1161, width: 1090, height: 18 }, style: { fill: '#fff' } }
];

const capStyle = { fontSize: 17.7, fontFamily: FONT, fill: '#231f20' };
const capRich = {
  b: { fontSize: 17.7, fontFamily: FONT, fontWeight: 'bold', fill: '#231f20' },
  i: { fontSize: 17.7, fontFamily: FONT, fontStyle: 'italic', fill: '#231f20' }
};
const captionLines = [
  '{b|FIGURE 6 |} Association between immune subtypes and ICPs and ICD modulators. {b|(A,B)} Differential expression of ICP genes among the PRAD immune subtypes',
  'in {b|(A)} TCGA and {b|(B)} ICGC cohorts. {b|(C,D)} Differential expression of ICD modulator genes among the PRAD immune subtypes in {b|(C)} TCGA and {b|(D)} ICGC cohorts. *{i|p} <',
  '0.01, **{i|p} < 0.001, ***{i|p} < 0.0001, and ****{i|p} < 0.00001.'
];
const caption = captionLines.map((t, k) => ({
  type: 'text', x: 19, y: 1569 + k * 24,
  style: Object.assign({ text: t, verticalAlign: 'middle', rich: capRich }, capStyle)
}));

const frame = {
  type: 'rect', z: 101, shape: { x: 8.5, y: 5.5, width: 1338, height: 1700 },
  style: { fill: 'none', stroke: '#b5b5b5', lineWidth: 1 }
};

const chart = echarts.init(document.getElementById('main'), null, { renderer: 'canvas' });
chart.setOption({
  backgroundColor: '#fff',
  animation: false,
  grid: grids,
  xAxis: xAxes,
  yAxis: yAxes,
  series: series,
  graphic: { elements: [frame].concat(legendItems, panelLetters, masks, caption) }
});
window.addEventListener('resize', function () { chart.resize(); });
</script>
</body>
</html>
